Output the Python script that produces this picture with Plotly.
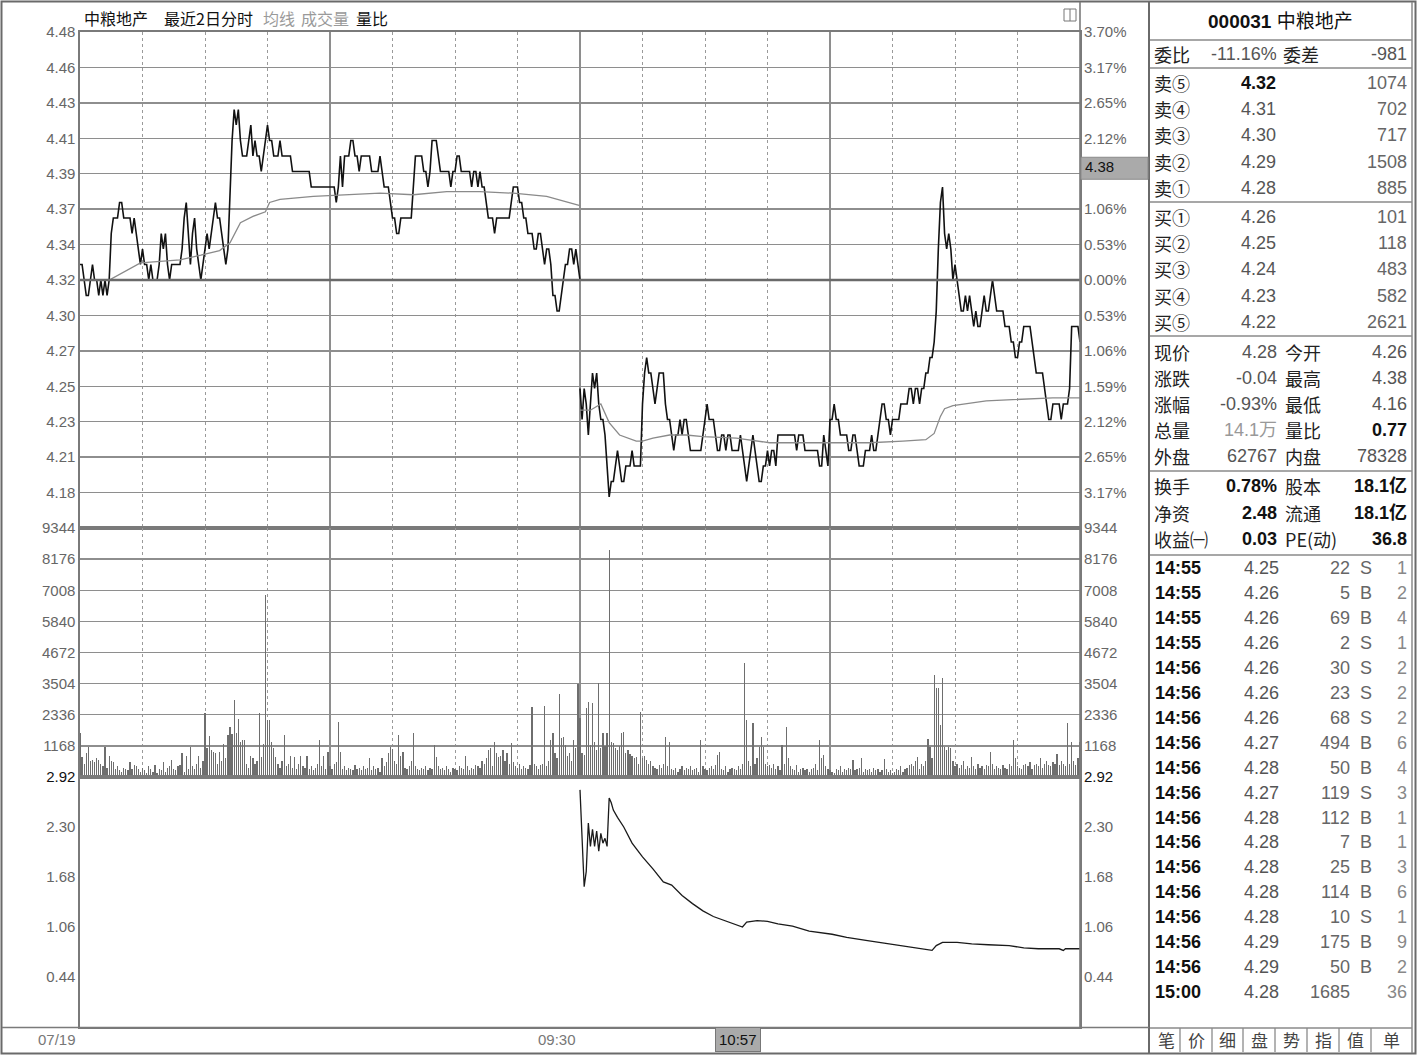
import plotly.graph_objects as go

# ====================== DATA ======================
prev_close = 4.32
price_span = 0.16            # +-3.70 %

price_tick_labels = ["4.48", "4.46", "4.43", "4.41", "4.39", "4.37", "4.34",
                     "4.32", "4.30", "4.27", "4.25", "4.23", "4.21", "4.18"]
pct_tick_labels = ["3.70%", "3.17%", "2.65%", "2.12%", "1.59%", "1.06%", "0.53%",
                   "0.00%", "0.53%", "1.06%", "1.59%", "2.12%", "2.65%", "3.17%"]
vol_ticks = [9344, 8176, 7008, 5840, 4672, 3504, 2336, 1168]
ratio_ticks = [2.92, 2.30, 1.68, 1.06, 0.44]
ratio_range = [-0.18, 2.92]

# day 1 (07/19) minute prices, 09:30 .. 15:00
day1_price = [
    4.33, 4.33, 4.32, 4.31, 4.31, 4.32, 4.33, 4.32, 4.32, 4.31,
    4.32, 4.31, 4.32, 4.31, 4.32, 4.35, 4.36, 4.36, 4.36, 4.37,
    4.37, 4.36, 4.36, 4.36, 4.36, 4.35, 4.36, 4.35, 4.34, 4.33,
    4.34, 4.33, 4.33, 4.32, 4.33, 4.32, 4.32, 4.32, 4.33, 4.35,
    4.34, 4.35, 4.33, 4.32, 4.33, 4.33, 4.33, 4.33, 4.33, 4.34,
    4.36, 4.37, 4.35, 4.33, 4.35, 4.36, 4.34, 4.33, 4.32, 4.33,
    4.34, 4.35, 4.34, 4.35, 4.36, 4.37, 4.36, 4.36, 4.35, 4.34,
    4.33, 4.34, 4.38, 4.41, 4.43, 4.42, 4.43, 4.41, 4.40, 4.40,
    4.40, 4.41, 4.42, 4.40, 4.41, 4.40, 4.40, 4.39, 4.40, 4.41,
    4.42, 4.41, 4.41, 4.40, 4.40, 4.40, 4.41, 4.40, 4.40, 4.40,
    4.40, 4.40, 4.39, 4.39, 4.39, 4.39, 4.39, 4.39, 4.39, 4.39,
    4.39, 4.38, 4.38, 4.38, 4.38, 4.38, 4.38, 4.38, 4.38, 4.38,
    4.38, 4.38, 4.38, 4.37, 4.38, 4.40, 4.38, 4.40, 4.40, 4.40,
    4.41, 4.41, 4.40, 4.40, 4.39, 4.40, 4.40, 4.40, 4.40, 4.40,
    4.39, 4.39, 4.39, 4.39, 4.40, 4.39, 4.38, 4.38, 4.38, 4.37,
    4.36, 4.36, 4.35, 4.35, 4.36, 4.36, 4.36, 4.36, 4.36, 4.36,
    4.38, 4.40, 4.40, 4.40, 4.40, 4.39, 4.39, 4.38, 4.39, 4.41,
    4.41, 4.41, 4.40, 4.39, 4.39, 4.39, 4.39, 4.39, 4.38, 4.39,
    4.39, 4.40, 4.40, 4.39, 4.39, 4.39, 4.39, 4.39, 4.38, 4.39,
    4.39, 4.38, 4.39, 4.38, 4.38, 4.37, 4.36, 4.36, 4.36, 4.35,
    4.36, 4.36, 4.36, 4.36, 4.36, 4.36, 4.36, 4.37, 4.38, 4.38,
    4.38, 4.37, 4.37, 4.36, 4.36, 4.35, 4.35, 4.35, 4.34, 4.34,
    4.35, 4.35, 4.34, 4.33, 4.34, 4.34, 4.33, 4.31, 4.31, 4.30,
    4.30, 4.31, 4.32, 4.33, 4.33, 4.34, 4.34, 4.33, 4.34, 4.33,
    4.32]

# day 2 minute prices, 09:30 .. 15:00
day2_price = [
    4.25, 4.23, 4.25, 4.24, 4.22, 4.24, 4.26, 4.25, 4.26, 4.24,
    4.23, 4.23, 4.22, 4.20, 4.18, 4.19, 4.19, 4.20, 4.21, 4.20,
    4.19, 4.19, 4.20, 4.20, 4.20, 4.21, 4.20, 4.20, 4.20, 4.20,
    4.24, 4.26, 4.27, 4.26, 4.26, 4.25, 4.24, 4.25, 4.26, 4.26,
    4.26, 4.24, 4.23, 4.23, 4.22, 4.21, 4.22, 4.22, 4.23, 4.22,
    4.23, 4.23, 4.22, 4.21, 4.21, 4.21, 4.21, 4.21, 4.21, 4.22,
    4.23, 4.24, 4.23, 4.23, 4.23, 4.22, 4.21, 4.21, 4.22, 4.22,
    4.21, 4.22, 4.22, 4.21, 4.21, 4.21, 4.21, 4.22, 4.21, 4.20,
    4.19, 4.20, 4.21, 4.22, 4.21, 4.20, 4.19, 4.19, 4.20, 4.20,
    4.21, 4.20, 4.21, 4.21, 4.20, 4.22, 4.22, 4.22, 4.22, 4.22,
    4.22, 4.22, 4.22, 4.22, 4.21, 4.22, 4.22, 4.22, 4.21, 4.21,
    4.21, 4.21, 4.21, 4.21, 4.21, 4.20, 4.20, 4.22, 4.21, 4.20,
    4.23, 4.23, 4.24, 4.23, 4.23, 4.22, 4.22, 4.22, 4.22, 4.21,
    4.21, 4.22, 4.22, 4.21, 4.20, 4.20, 4.20, 4.21, 4.21, 4.21,
    4.22, 4.21, 4.21, 4.22, 4.23, 4.24, 4.24, 4.23, 4.23, 4.22,
    4.23, 4.23, 4.23, 4.23, 4.24, 4.24, 4.24, 4.24, 4.25, 4.25,
    4.24, 4.25, 4.25, 4.24, 4.25, 4.25, 4.26, 4.26, 4.27, 4.27,
    4.28, 4.30, 4.34, 4.37, 4.38, 4.35, 4.34, 4.35, 4.34, 4.32,
    4.33, 4.32, 4.31, 4.30, 4.30, 4.31, 4.30, 4.31, 4.30, 4.29,
    4.30, 4.29, 4.29, 4.30, 4.31, 4.30, 4.30, 4.31, 4.32, 4.31,
    4.30, 4.30, 4.30, 4.30, 4.29, 4.29, 4.29, 4.28, 4.28, 4.27,
    4.27, 4.28, 4.28, 4.29, 4.29, 4.29, 4.29, 4.28, 4.27, 4.26,
    4.26, 4.26, 4.26, 4.25, 4.24, 4.23, 4.23, 4.24, 4.24, 4.24,
    4.24, 4.23, 4.24, 4.24, 4.24, 4.25, 4.29, 4.29, 4.29, 4.29,
    4.28]

# average-price lines (minute, value)
avg1_min = [0, 14, 29, 48, 58, 67, 72, 77, 83, 89, 91, 96, 112, 128, 144, 160, 176, 192, 208, 224, 240]
avg1_val = [4.320, 4.320, 4.331, 4.333, 4.336, 4.339, 4.344, 4.357, 4.361, 4.364, 4.370, 4.372,
            4.374, 4.375, 4.376, 4.375, 4.377, 4.377, 4.376, 4.374, 4.368]
avg2_min = [0, 5, 10, 14, 19, 27, 30, 35, 43, 51, 59, 75, 91, 107, 123, 139, 155, 166, 170,
            173, 175, 179, 195, 211, 227, 240]
avg2_val = [4.236, 4.236, 4.240, 4.228, 4.220, 4.216, 4.216, 4.218, 4.220, 4.220, 4.219, 4.218,
            4.215, 4.215, 4.215, 4.215, 4.216, 4.217, 4.221, 4.232, 4.237, 4.239, 4.242, 4.243,
            4.244, 4.244]

# minute volumes
vol1 = [
    1640, 760, 500, 900, 1140, 600, 640, 550, 700, 650,
    500, 400, 1110, 350, 790, 600, 550, 300, 400, 250,
    200, 350, 300, 250, 550, 300, 450, 400, 300, 200,
    350, 250, 150, 400, 300, 200, 450, 150, 300, 250,
    550, 200, 350, 400, 650, 300, 250, 400, 450, 910,
    200, 790, 300, 1110, 400, 300, 500, 790, 350, 600,
    2390, 1080, 1540, 1000, 950, 900, 500, 950, 600, 1230,
    700, 1580, 1890, 1600, 2890, 1640, 2170, 1300, 1390, 1400,
    500, 350, 800, 700, 500, 600, 2420, 765, 1230, 6840,
    2140, 2140, 1300, 1080, 765, 500, 350, 600, 1580, 400,
    500, 790, 350, 765, 300, 500, 790, 400, 350, 770,
    300, 400, 250, 350, 500, 1390, 400, 790, 300, 950,
    400, 300, 500, 550, 2080, 950, 300, 400, 250, 350,
    300, 250, 450, 300, 350, 250, 400, 300, 350, 700,
    250, 400, 300, 350, 200, 700, 400, 550, 900, 1140,
    1050, 600, 500, 1580, 800, 950, 350, 300, 400, 600,
    1640, 400, 300, 250, 350, 300, 400, 250, 350, 300,
    1200, 760, 400, 300, 350, 250, 400, 300, 200, 350,
    300, 250, 400, 350, 300, 770, 400, 250, 350, 300,
    450, 400, 350, 600, 500, 700, 1010, 1080, 400, 1330,
    900, 760, 800, 1000, 600, 900, 500, 1260, 550, 400,
    350, 500, 300, 400, 350, 300, 450, 2640, 500, 400,
    300, 450, 500, 2670, 400, 600, 1390, 1640, 900, 700,
    3100, 1450, 1510, 1200, 770, 900, 600, 1400, 1100, 3490]
vol2 = [
    2200, 900, 830, 2580, 2830, 1200, 2790, 1330, 1000, 3540,
    1100, 1640, 1150, 1640, 8500, 1300, 1260, 1100, 1000, 1150,
    1640, 1700, 900, 1000, 850, 800, 700, 750, 500, 2450,
    700, 800, 650, 500, 600, 400, 350, 300, 450, 350,
    500, 1490, 400, 1330, 300, 250, 350, 200, 300, 400,
    250, 350, 300, 400, 250, 300, 350, 200, 1390, 400,
    300, 250, 350, 400, 300, 450, 830, 950, 300, 250,
    400, 200, 300, 350, 300, 250, 400, 300, 500, 4290,
    2140, 600, 400, 2040, 500, 700, 1120, 1490, 1140, 500,
    400, 450, 350, 500, 300, 400, 250, 1190, 500, 1890,
    700, 400, 300, 250, 450, 200, 300, 350, 250, 300,
    200, 300, 350, 500, 250, 1390, 700, 830, 400, 300,
    250, 200, 150, 300, 250, 400, 200, 300, 250, 350,
    300, 640, 250, 300, 350, 700, 200, 300, 250, 300,
    200, 350, 250, 300, 200, 250, 660, 300, 200, 250,
    150, 200, 300, 250, 400, 200, 300, 350, 450, 500,
    400, 600, 760, 300, 500, 400, 600, 1440, 1140, 700,
    3830, 3330, 3330, 1950, 3700, 1140, 1000, 1140, 1080, 600,
    400, 500, 350, 450, 600, 300, 400, 350, 760, 400,
    300, 500, 350, 400, 300, 450, 400, 950, 500, 300,
    400, 350, 300, 450, 350, 300, 500, 400, 1390, 700,
    400, 350, 300, 450, 500, 400, 550, 300, 450, 500,
    400, 700, 350, 500, 600, 450, 400, 550, 500, 860,
    450, 600, 500, 400, 2020, 500, 1330, 600, 450, 700,
    1300]

# volume ratio (day 2 only)
ratio_min = [0, 1, 2, 3, 4, 5, 6, 7, 8, 9, 10, 11, 12, 13, 14, 15, 16,
             18, 21, 25, 30, 35, 40, 44, 49, 54, 59, 64, 69, 74, 78, 80, 85, 90, 95, 102,
             110, 121, 128, 138, 148, 157, 162, 169, 171, 174, 181, 188, 196, 206, 213,
             220, 230, 232, 233, 240]
ratio_val = [2.76, 2.05, 1.56, 1.75, 2.35, 2.06, 2.27, 2.06, 2.25, 2.00, 2.22, 2.10, 2.16,
             2.06, 2.66, 2.60, 2.51,
             2.42, 2.30, 2.10, 1.93, 1.78, 1.62, 1.58, 1.45, 1.35, 1.26, 1.19, 1.14, 1.09,
             1.06, 1.12, 1.14, 1.13, 1.10, 1.07, 1.01, 0.97, 0.93, 0.89, 0.85, 0.81, 0.79,
             0.77, 0.83, 0.87, 0.87, 0.85, 0.84, 0.83, 0.80, 0.79, 0.79, 0.77, 0.79, 0.79]

day_labels = ["07/19", "09:30"]
cursor_time_label = "10:57"
cursor_minute_day2 = 87
cursor_price = 4.385
cursor_price_label = "4.38"

# right-side quote panel
stock_code = "000031"
stock_name = "中粮地产"
wei_bi = "-11.16%"
wei_cha = "-981"
ask_labels = ["卖⑤", "卖④", "卖③", "卖②", "卖①"]
ask_prices = ["4.32", "4.31", "4.30", "4.29", "4.28"]
ask_vols = [1074, 702, 717, 1508, 885]
bid_labels = ["买①", "买②", "买③", "买④", "买⑤"]
bid_prices = ["4.26", "4.25", "4.24", "4.23", "4.22"]
bid_vols = [101, 118, 483, 582, 2621]
quote_l_names = ["现价", "涨跌", "涨幅", "总量", "外盘"]
quote_l_vals = ["4.28", "-0.04", "-0.93%", "14.1万", "62767"]
quote_r_names = ["今开", "最高", "最低", "量比", "内盘"]
quote_r_vals = ["4.26", "4.38", "4.16", "0.77", "78328"]
fund_l_names = ["换手", "净资", "收益㈠"]
fund_l_vals = ["0.78%", "2.48", "0.03"]
fund_r_names = ["股本", "流通", "PE(动)"]
fund_r_vals = ["18.1亿", "18.1亿", "36.8"]
tick_times = ["14:55"] * 4 + ["14:56"] * 13 + ["15:00"]
tick_prices = ["4.25", "4.26", "4.26", "4.26", "4.26", "4.26", "4.26", "4.27", "4.28",
               "4.27", "4.28", "4.28", "4.28", "4.28", "4.28", "4.29", "4.29", "4.28"]
tick_vols = [22, 5, 69, 2, 30, 23, 68, 494, 50, 119, 112, 7, 25, 114, 10, 175, 50, 1685]
tick_side = ["S", "B", "B", "S", "S", "S", "S", "B", "B", "S", "B", "B", "B", "B", "S", "B", "B", ""]
tick_count = [1, 2, 4, 1, 2, 2, 2, 6, 4, 3, 1, 1, 3, 6, 1, 9, 2, 36]
tab_labels = ["笔", "价", "细", "盘", "势", "指", "值", "单"]

# ====================== LAYOUT HELPERS ======================
W, H = 1418, 1056
def px(x): return x / W
def py(y): return 1 - y / H

NUM = "Liberation Sans, Arial, Noto Sans CJK SC, sans-serif"
CJK = "Noto Sans CJK SC, sans-serif"
GRID = "#8e8e8e"
AXC = "#666666"
CJK_SIZE = 18

X_DOM = [px(80), px(1080)]
PRICE_DOM = [py(528), py(32)]
VOL_DOM = [py(777), py(528)]
RATIO_DOM = [py(1027), py(777)]

D1 = 0          # day-1 offset on the minute axis
D2 = 240        # day-2 offset

step = price_span / 7
price_tickvals = [prev_close + (7 - k) * step for k in range(14)]
price_range = [prev_close - price_span, prev_close + price_span]

# the cursor's price box covers the right-axis label that sits under it
box_h = 22 * (price_range[1] - price_range[0]) / (528 - 32)
pct_text_shown = ["" if cursor_price - 0.002 <= v <= cursor_price + box_h + 0.002 else t
                  for v, t in zip(price_tickvals, pct_tick_labels)]

fig = go.Figure()

# price lines
fig.add_trace(go.Scatter(x=[D1 + i for i in range(len(day1_price))], y=day1_price, mode="lines",
                         line=dict(color="#111111", width=1.6), xaxis="x", yaxis="y"))
fig.add_trace(go.Scatter(x=[D2 + i for i in range(len(day2_price))], y=day2_price, mode="lines",
                         line=dict(color="#111111", width=1.6), xaxis="x", yaxis="y"))
fig.add_trace(go.Scatter(x=[D1 + m for m in avg1_min], y=avg1_val, mode="lines",
                         line=dict(color="#8a8a8a", width=1.3), xaxis="x", yaxis="y"))
fig.add_trace(go.Scatter(x=[D2 + m for m in avg2_min], y=avg2_val, mode="lines",
                         line=dict(color="#8a8a8a", width=1.3), xaxis="x", yaxis="y"))

# volume bars
fig.add_trace(go.Bar(x=[D1 + i for i in range(len(vol1))] + [D2 + i for i in range(len(vol2))],
                     y=vol1 + vol2, width=0.6, marker=dict(color="#6e6e6e", line=dict(width=0)),
                     xaxis="x2", yaxis="y2"))

# volume ratio
fig.add_trace(go.Scatter(x=[D2 + m for m in ratio_min], y=ratio_val, mode="lines",
                         line=dict(color="#1a1a1a", width=1.3), xaxis="x3", yaxis="y3"))

tickfont = dict(family=NUM, size=15, color=AXC)

def xax(anchor, grid=True):
    return dict(domain=X_DOM, range=[0, 480], anchor=anchor, tick0=0, dtick=120, automargin=False,
                showgrid=grid, gridcolor=GRID, gridwidth=1.4,
                minor=dict(tick0=0, dtick=30, showgrid=grid, gridcolor="#9a9a9a",
                           griddash="dot", gridwidth=1),
                showticklabels=False, ticks="", zeroline=False,
                showline=True, linecolor="#7a7a7a", linewidth=1.6, mirror=True)

def yax(anchor, dom, rng, vals, texts, grid=True):
    return dict(domain=dom, range=rng, anchor=anchor, tickmode="array", tickvals=vals, ticktext=texts,
                automargin=False, showgrid=grid, gridcolor=GRID, gridwidth=1.4, zeroline=False, ticks="",
                showline=True, linecolor="#7a7a7a", linewidth=1.6, mirror=True, tickfont=tickfont)

def yright(over, anchor, rng, vals, texts):
    return dict(overlaying=over, side="right", anchor=anchor, range=rng, tickmode="array",
                tickvals=vals, ticktext=texts, showgrid=False, zeroline=False, ticks="",
                automargin=False, showline=False, tickfont=tickfont, ticklabelstandoff=3)

vol_text = [str(v) for v in vol_ticks]
ratio_text = ['<span style="color:#111">%.2f</span>' % ratio_ticks[0]] + ["%.2f" % v for v in ratio_ticks[1:]]

fig.update_layout(
    template="none",
    width=W, height=H, autosize=False, margin=dict(l=0, r=0, t=0, b=0, pad=0),
    paper_bgcolor="white", plot_bgcolor="white", showlegend=False, bargap=0,
    hovermode=False,
    xaxis=xax("y"), xaxis2=dict(xax("y2"), matches="x"), xaxis3=dict(xax("y3", grid=False), matches="x"),
    yaxis=yax("x", PRICE_DOM, price_range, price_tickvals, price_tick_labels),
    yaxis2=yax("x2", VOL_DOM, [0, vol_ticks[0]], vol_ticks, vol_text),
    yaxis3=yax("x3", RATIO_DOM, ratio_range, ratio_ticks, ratio_text, grid=False),
    yaxis4=yright("y", "x", price_range, price_tickvals, pct_text_shown),
    yaxis5=yright("y2", "x2", [0, vol_ticks[0]], vol_ticks, vol_text),
    yaxis6=yright("y3", "x3", ratio_range, ratio_ticks, ratio_text),
)
# dummy traces so overlay axes render
fig.add_trace(go.Scatter(x=[None], y=[None], xaxis="x", yaxis="y4", showlegend=False))
fig.add_trace(go.Scatter(x=[None], y=[None], xaxis="x2", yaxis="y5", showlegend=False))
fig.add_trace(go.Scatter(x=[None], y=[None], xaxis="x3", yaxis="y6", showlegend=False))

shapes = []
def hline(y, x0, x1, color="#8a8a8a", w=1.5):
    shapes.append(dict(type="line", xref="paper", yref="paper", x0=px(x0), x1=px(x1),
                       y0=py(y), y1=py(y), line=dict(color=color, width=w)))
def vline(x, y0, y1, color="#8a8a8a", w=1.5):
    shapes.append(dict(type="line", xref="paper", yref="paper", x0=px(x), x1=px(x),
                       y0=py(y0), y1=py(y1), line=dict(color=color, width=w)))

# previous close reference line
shapes.append(dict(type="line", xref="x", yref="y", x0=0, x1=480, y0=prev_close, y1=prev_close,
                   line=dict(color="#6a6a6a", width=2.6)))
# outer frame
shapes.append(dict(type="rect", xref="paper", yref="paper", x0=px(1.5), x1=px(1415.5),
                   y0=py(1053.5), y1=py(1.5), line=dict(color="#6a6a6a", width=2)))
vline(1080, 2, 1027, "#7a7a7a", 1.6)
vline(1149, 2, 1053, "#6a6a6a", 2)
hline(1027.5, 2, 1149, "#7a7a7a", 1.6)
vline(1412, 2, 1053, "#8a8a8a", 1.5)
for yy in [40, 68, 202, 336, 471, 555, 1028]:
    hline(yy, 1150, 1412, "#8a8a8a", 1.5)
for xx in [1180, 1212, 1243, 1275, 1307, 1339, 1371]:
    vline(xx, 1028, 1052, "#8a8a8a", 1.3)
# small window icon
shapes.append(dict(type="rect", xref="paper", yref="paper", x0=px(1064), x1=px(1076),
                   y0=py(21), y1=py(9), line=dict(color="#777", width=1)))
vline(1070, 9, 21, "#777", 1)
# cursor price box on right axis
shapes.append(dict(type="rect", xref="paper", yref="y", x0=px(1081), x1=px(1148),
                   ysizemode="pixel", yanchor=cursor_price, y0=0, y1=22,
                   fillcolor="#aaaaaa", line=dict(color="#8a8a8a", width=1)))

ann = []
def txt(x, y, s, size=18, color="#222", anchor="left", family=NUM, xref="paper", yref="paper",
        yanchor="middle", **kw):
    d = dict(x=px(x) if xref == "paper" else x, y=py(y) if yref == "paper" else y,
             xref=xref, yref=yref, text=s, showarrow=False, xanchor=anchor, yanchor=yanchor,
             font=dict(size=size, color=color, family=family))
    d.update(kw)
    ann.append(d)

ROWBOX = dict(height=24, borderpad=0)

# chart header
txt(82, 18, stock_name, 16, "#111", family=CJK)
txt(162, 18, "最近2日分时", 16, "#111", family=CJK)
txt(261, 18, "均线", 16, "#9a9a9a", family=CJK)
txt(299, 18, "成交量", 16, "#9a9a9a", family=CJK)
txt(354, 18, "量比", 16, "#111", family=CJK)

# bottom time labels
txt(D1, 1039, day_labels[0], 15, "#777", anchor="right", xref="x", xshift=-2)
txt(D2, 1039, day_labels[1], 15, "#777", anchor="right", xref="x", xshift=-2)
ann.append(dict(x=D2 + cursor_minute_day2, y=py(1039.5), xref="x", yref="paper", text=cursor_time_label,
                showarrow=False, xanchor="right", yanchor="middle", bgcolor="#aaaaaa",
                bordercolor="#777", borderwidth=1, borderpad=3,
                font=dict(size=15, color="#111", family=NUM)))
# cursor price text
ann.append(dict(x=px(1083), y=cursor_price, xref="paper", yref="y", text=cursor_price_label,
                showarrow=False, xanchor="left", yanchor="bottom", yshift=2,
                font=dict(size=15, color="#111", family=NUM)))

# quote panel
txt(1280, 21, "<b>%s</b> %s" % (stock_code, stock_name), 19, "#111", anchor="center")
txt(1153, 54, "委比", CJK_SIZE, "#222", family=CJK, **ROWBOX)
txt(1278, 54, wei_bi, 18, "#555", anchor="right", **ROWBOX)
txt(1282, 54, "委差", CJK_SIZE, "#222", family=CJK, **ROWBOX)
txt(1408, 54, wei_cha, 18, "#555", anchor="right", **ROWBOX)
for i in range(5):
    y = 83 + 26.2 * i
    txt(1153, y, ask_labels[i], CJK_SIZE, "#222", family=CJK, **ROWBOX)
    if i == 0:
        txt(1277, y, "<b>%s</b>" % ask_prices[i], 18, "#111", anchor="right", **ROWBOX)
    else:
        txt(1277, y, ask_prices[i], 18, "#555", anchor="right", **ROWBOX)
    txt(1408, y, str(ask_vols[i]), 18, "#666", anchor="right", **ROWBOX)
for i in range(5):
    y = 217 + 26.2 * i
    txt(1153, y, bid_labels[i], CJK_SIZE, "#222", family=CJK, **ROWBOX)
    txt(1277, y, bid_prices[i], 18, "#555", anchor="right", **ROWBOX)
    txt(1408, y, str(bid_vols[i]), 18, "#666", anchor="right", **ROWBOX)
ql_colors = ["#555", "#555", "#555", "#999", "#555"]
qr_colors = ["#555", "#555", "#555", "#111", "#555"]
for i in range(5):
    y = 352 + 26 * i
    txt(1153, y, quote_l_names[i], CJK_SIZE, "#222", family=CJK, **ROWBOX)
    txt(1278, y, quote_l_vals[i], 18, ql_colors[i], anchor="right", **ROWBOX)
    txt(1284, y, quote_r_names[i], CJK_SIZE, "#222", family=CJK, **ROWBOX)
    v = quote_r_vals[i]
    txt(1408, y, "<b>%s</b>" % v if qr_colors[i] == "#111" else v, 18, qr_colors[i], anchor="right",
        **ROWBOX)
for i in range(3):
    y = 486 + 26.5 * i
    txt(1153, y, fund_l_names[i], CJK_SIZE, "#222", family=CJK, **ROWBOX)
    txt(1278, y, "<b>%s</b>" % fund_l_vals[i], 18, "#111", anchor="right", **ROWBOX)
    txt(1284, y, fund_r_names[i], CJK_SIZE, "#222", family=CJK, **ROWBOX)
    txt(1408, y, "<b>%s</b>" % fund_r_vals[i], 18, "#111", anchor="right", **ROWBOX)
for i in range(len(tick_times)):
    y = 568 + 24.95 * i
    txt(1154, y, "<b>%s</b>" % tick_times[i], 18, "#111", **ROWBOX)
    txt(1280, y, tick_prices[i], 18, "#555", anchor="right", **ROWBOX)
    txt(1351, y, str(tick_vols[i]), 18, "#666", anchor="right", **ROWBOX)
    if tick_side[i]:
        txt(1366, y, tick_side[i], 18, "#666", anchor="center", **ROWBOX)
    txt(1408, y, str(tick_count[i]), 18, "#888", anchor="right", **ROWBOX)
tab_cx = [1166, 1196, 1227, 1259, 1291, 1323, 1355, 1391]
for lab, cx in zip(tab_labels, tab_cx):
    txt(cx, 1039, lab, 17, "#444", anchor="center", family=CJK)

fig.update_layout(shapes=shapes, annotations=ann)
fig.write_html("out.html", config={"displayModeBar": False, "staticPlot": True})

# remove default page margins so the figure sits at the window's top-left corner
with open("out.html", "r", encoding="utf-8") as f:
    html = f.read()
css = ("<style>html,body{margin:0;padding:0;overflow:hidden;background:#fff}"
       ".plotly-graph-div{position:absolute;top:0;left:0}</style>")
html = html.replace("<head>", "<head>" + css, 1)
with open("out.html", "w", encoding="utf-8") as f:
    f.write(html)
